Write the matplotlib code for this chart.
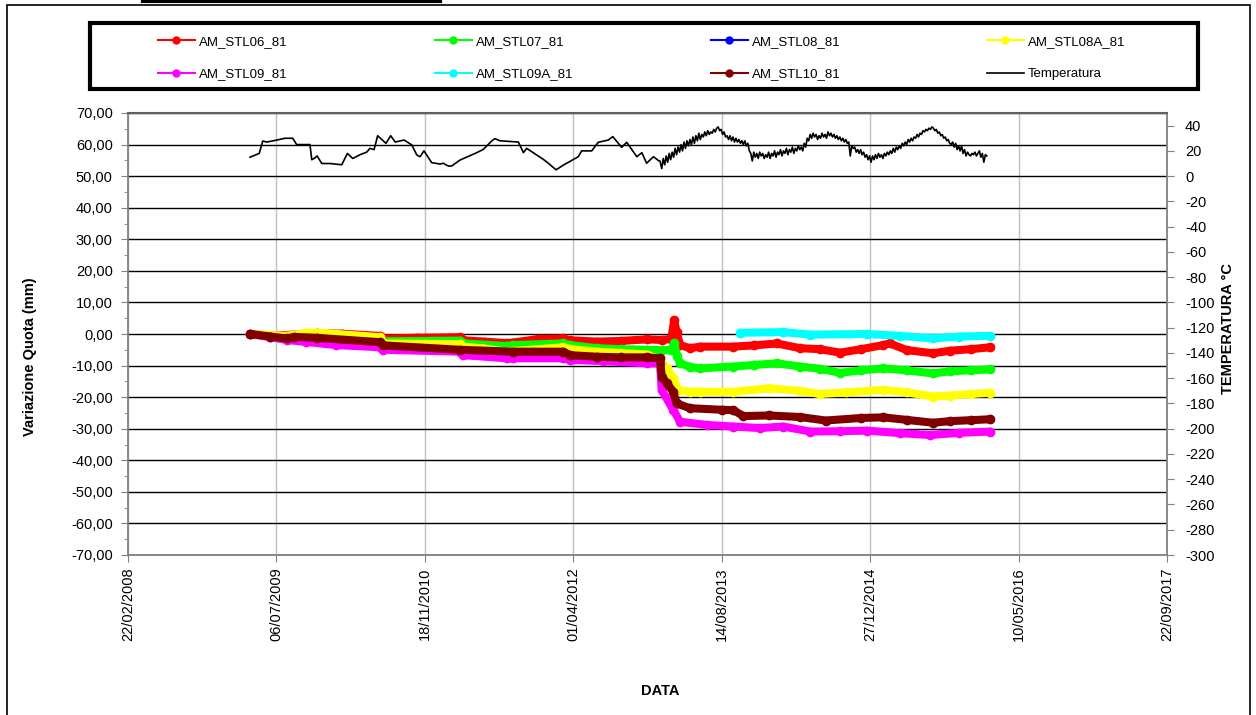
import matplotlib
matplotlib.use("Agg")
import matplotlib.pyplot as plt
import matplotlib.dates as mdates
from matplotlib.lines import Line2D
from matplotlib.patches import Rectangle
from matplotlib.ticker import FuncFormatter, MultipleLocator
import pandas as pd

plt.rcParams['font.family'] = ['Liberation Sans', 'DejaVu Sans']
plt.rcParams['axes.unicode_minus'] = False

# ---------------- DATA ----------------
base_date = "2008-02-22"   # day 0 of the x axis
x_tick_step_days = 500
x_span_days = 3500

# Displacement series (day offset from base_date, value in mm)
stl06_days = [411, 480, 560, 636, 720, 849, 860, 973, 1119, 1130, 1200, 1276, 1298, 1380, 1467, 1489,
              1580, 1660, 1748, 1800, 1830, 1840, 1848, 1860, 1893, 1927, 2038, 2110, 2186, 2264, 2330,
              2399, 2470, 2544, 2567, 2623, 2712, 2769, 2840, 2904]
stl06_vals = [0.0, -0.5, -0.2, 0.3, 0.1, -0.6, -1.4, -1.2, -1.0, -2.0, -2.4, -2.9, -2.7, -1.6, -1.4, -2.0,
              -2.4, -2.2, -1.7, -1.9, -1.5, 4.4, 0.5, -3.5, -4.5, -4.0, -4.0, -3.6, -3.0, -4.5, -4.8,
              -5.9, -4.8, -3.5, -3.0, -5.1, -6.1, -5.3, -4.8, -4.2]

stl07_days = [411, 535, 636, 849, 860, 1119, 1130, 1276, 1298, 1467, 1489, 1580, 1660, 1748, 1800, 1830,
              1840, 1850, 1860, 1893, 1927, 2038, 2110, 2186, 2264, 2330, 2399, 2470, 2544, 2623, 2712,
              2769, 2840, 2904]
stl07_vals = [0.0, -1.2, -0.8, -1.5, -2.3, -2.1, -3.0, -3.8, -3.5, -3.0, -3.5, -4.5, -4.8, -5.0, -5.1, -5.1,
              -3.0, -7.0, -9.3, -10.4, -10.9, -10.3, -9.8, -9.3, -10.3, -11.0, -12.3, -11.5, -10.9, -11.5, -12.5,
              -11.8, -11.5, -11.2]

stl08_days = []
stl08_vals = []

stl08a_days = [411, 535, 600, 660, 849, 860, 1119, 1130, 1200, 1276, 1298, 1467, 1489, 1580, 1660, 1748,
               1792, 1815, 1837, 1854, 1893, 1927, 2038, 2160, 2264, 2330, 2420, 2544, 2623, 2712, 2769,
               2840, 2904]
stl08a_vals = [0.0, -0.6, 0.4, 0.3, -1.0, -3.0, -3.2, -4.0, -4.6, -5.6, -5.4, -4.2, -4.8, -5.6, -6.0, -6.5,
               -8.2, -10.9, -14.0, -17.8, -18.3, -18.3, -18.3, -17.2, -18.0, -19.0, -18.5, -17.7, -18.5, -19.8, -19.5,
               -19.0, -18.6]

stl09_days = [411, 480, 535, 600, 700, 849, 860, 1119, 1130, 1276, 1298, 1467, 1489, 1600, 1748, 1792,
              1798, 1837, 1860, 1950, 2038, 2129, 2207, 2298, 2400, 2489, 2600, 2702, 2800, 2904]
stl09_vals = [0.0, -1.0, -1.9, -2.5, -3.5, -4.2, -5.0, -5.6, -6.7, -7.7, -7.7, -7.7, -8.2, -8.6, -9.3, -9.3,
              -17.8, -24.1, -27.8, -28.8, -29.3, -29.8, -29.3, -30.9, -30.8, -30.6, -31.4, -32.0, -31.3, -30.9]

stl09a_days = [2062, 2207, 2298, 2489, 2601, 2712, 2800, 2904]
stl09a_vals = [0.4, 0.6, -0.2, 0.0, -0.6, -1.4, -0.8, -0.6]

stl10_days = [411, 480, 535, 560, 636, 849, 860, 1119, 1298, 1467, 1489, 1580, 1660, 1748, 1792, 1798,
              1815, 1837, 1848, 1893, 2000, 2039, 2073, 2160, 2264, 2350, 2470, 2544, 2623, 2712, 2769,
              2840, 2904]
stl10_vals = [0.0, -0.8, -1.4, -0.9, -1.2, -2.6, -3.6, -5.0, -5.6, -5.6, -6.7, -7.2, -7.4, -7.4, -7.7, -13.5,
              -15.6, -18.3, -22.0, -23.5, -24.0, -24.1, -26.0, -25.8, -26.3, -27.4, -26.6, -26.4, -27.2, -28.1, -27.6,
              -27.3, -27.0]

# Temperature (day offset, degrees C)
temp_days = [411, 442, 454, 467, 490, 529, 555, 568, 613, 619, 627, 637, 653, 681, 720, 739, 757, 782, 804,
             815, 829, 841, 869, 885, 900, 930, 956, 973, 984, 997, 1023, 1051, 1062, 1079, 1090, 1119,
             1175, 1197, 1225, 1236, 1253, 1315, 1332, 1343, 1399, 1416, 1442, 1467, 1517, 1528, 1562,
             1584, 1618, 1633, 1663, 1680, 1714, 1731, 1747, 1770, 1787,
             1792, 1798, 1803, 1808, 1813, 1818, 1823, 1828, 1833, 1838, 1843, 1848, 1853, 1858, 1863, 1868,
             1873, 1878, 1883, 1888, 1893, 1898, 1903, 1908, 1913, 1918, 1923, 1928, 1933, 1938, 1943, 1948,
             1953, 1958, 1963, 1968, 1973, 1978, 1983, 1988, 1993, 1998, 2003, 2008, 2013, 2018, 2023, 2028,
             2033, 2038, 2043, 2048, 2053, 2058, 2063, 2068, 2073, 2078, 2083, 2088, 2093, 2098, 2103, 2108,
             2113, 2118, 2123, 2128, 2133, 2138, 2143, 2148, 2153, 2158, 2163, 2168, 2173, 2178, 2183, 2188,
             2193, 2198, 2203, 2208, 2213, 2218, 2223, 2228, 2233, 2238, 2243, 2248, 2253, 2258, 2263, 2268,
             2273, 2278, 2283, 2288, 2293, 2298, 2303, 2308, 2313, 2318, 2323, 2328, 2333, 2338, 2343, 2348,
             2353, 2358, 2363, 2368, 2373, 2378, 2383, 2388, 2393, 2398, 2403, 2408, 2413, 2418, 2423, 2428,
             2433, 2438, 2443, 2448, 2453, 2458, 2463, 2468, 2473, 2478, 2483, 2488, 2493, 2498, 2503, 2508,
             2513, 2518, 2523, 2528, 2533, 2538, 2543, 2548, 2553, 2558, 2563, 2568, 2573, 2578, 2583, 2588,
             2593, 2598, 2603, 2608, 2613, 2618, 2623, 2628, 2633, 2638, 2643, 2648, 2653, 2658, 2663, 2668,
             2673, 2678, 2683, 2688, 2693, 2698, 2703, 2708, 2713, 2718, 2723, 2728, 2733, 2738, 2743, 2748,
             2753, 2758, 2763, 2768, 2773, 2778, 2783, 2788, 2793, 2798, 2803, 2808, 2813, 2818, 2823, 2828,
             2833, 2838, 2843, 2848, 2853, 2858, 2863, 2868, 2873, 2878, 2883, 2888, 2893]
temp_vals = [15, 18, 27.8, 27, 28, 30, 30, 25, 25, 13, 14, 16, 10, 10, 9, 18, 14, 17, 19,
             22, 21, 32, 26, 32, 27, 28.6, 24.7, 16.7, 15.4, 20, 10.7, 9.6, 10.2, 8, 8, 12.8,
             18.6, 21.2, 27.8, 29.7, 28, 27, 18.6, 22, 13.3, 10.2, 5, 8.8, 15.4, 20, 20,
             26.8, 28.6, 31.3, 22.8, 26.8, 15.4, 18.6, 10.2, 15.4, 12.3,
             12, 6, 14, 9, 16, 11, 18, 13, 19, 15, 22, 17, 23, 19, 25, 20,
             27, 22, 28, 24, 29, 25, 31, 26, 32, 28, 34, 29, 33, 31, 35, 32,
             36, 33, 35, 34, 37, 35, 38, 39, 36, 37, 33, 35, 31, 32, 29, 32,
             28, 31, 27, 30, 27, 29, 26, 28, 25, 28, 24, 26, 20, 18, 12, 19,
             15, 18, 14, 19, 16, 18, 14, 17, 15, 19, 14, 18, 16, 20, 15, 19,
             17, 21, 16, 20, 18, 22, 17, 21, 19, 23, 18, 22, 20, 24, 21, 23,
             20, 26, 23, 30, 28, 33, 30, 34, 31, 33, 29, 32, 30, 34, 31, 33,
             30, 35, 32, 34, 31, 33, 30, 32, 29, 31, 28, 30, 27, 29, 26, 27,
             16, 24, 22, 23, 19, 21, 18, 21, 17, 19, 15, 17, 13, 16, 11, 16,
             13, 17, 14, 18, 15, 17, 14, 18, 16, 19, 17, 20, 18, 22, 19, 23,
             21, 24, 22, 26, 24, 27, 25, 29, 27, 30, 28, 31, 30, 33, 31, 34,
             33, 36, 35, 37, 36, 38, 37, 39, 38, 36, 37, 34, 35, 32, 33, 30,
             31, 28, 29, 26, 25, 27, 23, 26, 21, 24, 20, 24, 18, 21, 16, 19,
             17, 16, 18, 17, 19, 16, 18, 20, 15, 18, 11, 17, 16]

series_names = ["AM_STL06_81", "AM_STL07_81", "AM_STL08_81", "AM_STL08A_81",
                "AM_STL09_81", "AM_STL09A_81", "AM_STL10_81"]
series_colors = ["#FF0000", "#00FF00", "#0000FF", "#FFFF00", "#FF00FF", "#00FFFF", "#800000"]
temp_name = "Temperatura"

left_ticks = list(range(-70, 71, 10))
right_ticks = list(range(-300, 41, 20))

# ---------------- PLOT ----------------
base = pd.Timestamp(base_date)
def to_dates(days):
    return [base + pd.Timedelta(days=d) for d in days]

W, H = 1256, 715
fig = plt.figure(figsize=(W / 100, H / 100), dpi=100)
ax = fig.add_axes([128 / W, 1 - 555 / H, (1167 - 128) / W, (555 - 113) / H])

all_days = [stl06_days, stl07_days, stl08_days, stl08a_days, stl09_days, stl09a_days, stl10_days]
all_vals = [stl06_vals, stl07_vals, stl08_vals, stl08a_vals, stl09_vals, stl09a_vals, stl10_vals]
for days, vals, col in zip(all_days, all_vals, series_colors):
    if len(days) == 0:
        continue
    ax.plot(to_dates(days), vals, color=col, lw=5.8, solid_capstyle='round',
            solid_joinstyle='round', marker='o', ms=6, mec=col, zorder=3)

ax.set_ylim(-70, 70)
ax.set_yticks(left_ticks)
ax.yaxis.set_minor_locator(MultipleLocator(5))
ax.yaxis.set_major_formatter(FuncFormatter(lambda v, p: f"{v:.2f}".replace('.', ',')))
ax.set_xlim(base, base + pd.Timedelta(days=x_span_days))
ax.set_xticks(to_dates(range(0, x_span_days + 1, x_tick_step_days)))
ax.xaxis.set_major_formatter(mdates.DateFormatter('%d/%m/%Y'))
for lab in ax.get_xticklabels():
    lab.set_rotation(90)

ax.grid(axis='y', color='black', lw=1.0, zorder=1)
ax.grid(axis='x', color='#c0c0c0', lw=1.0, zorder=1)
ax.set_axisbelow(True)
for s in ['left', 'bottom', 'right']:
    ax.spines[s].set_color('#808080')
    ax.spines[s].set_linewidth(1.3)
ax.spines['top'].set_color('#606060')
ax.spines['top'].set_linewidth(1.5)
ax.tick_params(axis='y', which='major', length=5, color='#808080', labelsize=10.5, pad=6)
ax.tick_params(axis='y', which='minor', length=3, color='#808080')
ax.tick_params(axis='x', which='major', length=5, color='#808080', labelsize=10.5, pad=4)

ax2 = ax.twinx()
ax2.plot(to_dates(temp_days), temp_vals, color='black', lw=1.2, zorder=4)
ax2.set_ylim(-300, 50)
ax2.set_yticks(right_ticks)
ax2.tick_params(axis='y', length=5, color='#808080', labelsize=10.5, pad=8)
for s in ax2.spines.values():
    s.set_visible(False)

fig.text(30 / W, 1 - 357 / H, "Variazione Quota (mm)", rotation=90, ha='center', va='center',
         fontsize=10.5, fontweight='bold')
fig.text(1228 / W, 1 - 328 / H, "TEMPERATURA °C", rotation=90, ha='center', va='center',
         fontsize=10.5, fontweight='bold')
fig.text(660 / W, 1 - 691 / H, "DATA", ha='center', va='center', fontsize=10.5, fontweight='bold')

# Legend: four columns, two rows
handles = [Line2D([], [], color=c, lw=1.5, marker='o', ms=5) for c in series_colors]
handles.append(Line2D([], [], color='black', lw=1.2))
labels = series_names + [temp_name]
col_items = [[0, 4], [1, 5], [2, 6], [3, 7]]
col_x = [158, 435, 711, 987]
for cx, items in zip(col_x, col_items):
    leg = fig.legend([handles[i] for i in items], [labels[i] for i in items],
                     loc='upper left', bbox_to_anchor=(cx / W, 1 - 35.5 / H),
                     frameon=False, borderpad=0, borderaxespad=0, fontsize=9.5,
                     handlelength=2.8, handletextpad=0.3, labelspacing=1.55)
fig.patches.append(Rectangle((90 / W, 1 - 89 / H), (1198 - 90) / W, 66 / H, transform=fig.transFigure,
                             fill=False, lw=3, ec='black', zorder=5))
fig.patches.append(Rectangle((7 / W, 1 - 716 / H), (1250 - 7) / W, 711 / H, transform=fig.transFigure,
                             fill=False, lw=1.2, ec='black'))
fig.lines.append(Line2D([143 / W, 440 / W], [1 - 1 / H, 1 - 1 / H], transform=fig.transFigure,
                        color='black', lw=3))

fig.savefig("out.png", dpi=100)
